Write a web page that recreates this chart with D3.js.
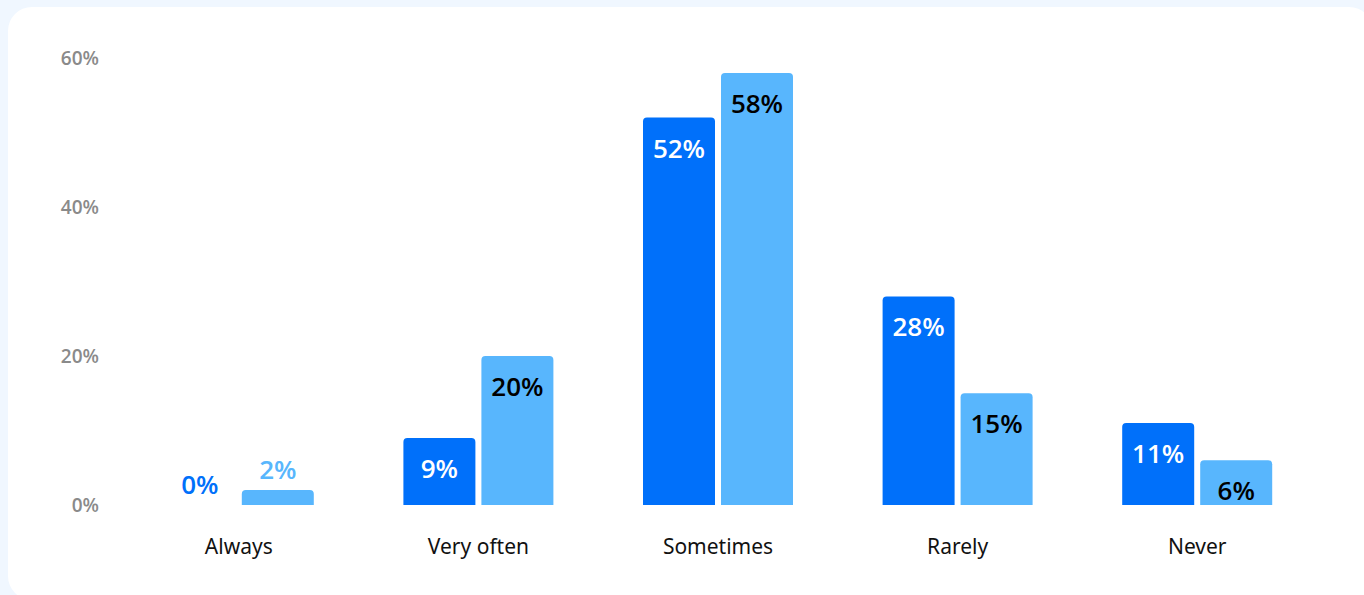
<!DOCTYPE html>
<html>
<head>
<meta charset="utf-8">
<script src="https://cdn.jsdelivr.net/npm/d3@7"></script>
<style>
  html, body { margin: 0; padding: 0; background: #f0f7ff; }
  svg { display: block; font-family: "Noto Sans", sans-serif; }
</style>
</head>
<body>
<svg id="chart" width="1364" height="595"></svg>
<script>
const categories = ["Always", "Very often", "Sometimes", "Rarely", "Never"];
const seriesA = [0, 9, 52, 28, 11];   // darker bars
const seriesB = [2, 20, 58, 15, 6];   // lighter bars
const tickValues = [0, 20, 40, 60];
const tickLabels = ["0%", "20%", "40%", "60%"];

const colorA = "#0070fa";
const colorB = "#58b6fd";
const labelFont = "'Open Sans', 'Noto Sans', sans-serif";

const svg = d3.select("#chart");

// card
svg.append("rect")
  .attr("x", 8).attr("y", 7)
  .attr("width", 1365).attr("height", 593)
  .attr("rx", 24).attr("ry", 24)
  .attr("fill", "#ffffff");

const baseY = 505, topY = 58;
const y = d3.scaleLinear().domain([0, 60]).range([baseY, topY]);
const x = d3.scaleBand().domain(categories).range([119, 1317]);
const barW = 72, gap = 6;
const pairW = barW * 2 + gap;

// y axis labels
const yAxis = d3.axisLeft(y).tickValues(tickValues)
  .tickFormat((d, i) => tickLabels[i]).tickSize(0).tickPadding(0);
const yg = svg.append("g").attr("transform", "translate(99,0)").call(yAxis);
yg.select(".domain").remove();
yg.selectAll("text")
  .attr("fill", "#8a8a8a")
  .attr("font-size", 19)
  .attr("font-weight", 600)
  .attr("font-family", labelFont)
  .attr("dy", "0.36em");

// x axis labels
const xAxis = d3.axisBottom(x).tickSize(0).tickPadding(0);
const xg = svg.append("g").attr("transform", "translate(0,534)").call(xAxis);
xg.select(".domain").remove();
xg.selectAll("text")
  .attr("fill", "#111")
  .attr("font-size", 21)
  .attr("font-family", "Noto Sans, sans-serif")
  .attr("dy", "0.95em");

function topRounded(x0, y0, w, h, r) {
  if (h <= 0) return "";
  const rr = Math.min(r, h, w / 2);
  return `M${x0},${y0 + h}V${y0 + rr}Q${x0},${y0} ${x0 + rr},${y0}H${x0 + w - rr}Q${x0 + w},${y0} ${x0 + w},${y0 + rr}V${y0 + h}Z`;
}

const rows = categories.map((c, i) => ({ c, a: seriesA[i], b: seriesB[i] }));

rows.forEach(row => {
  const cx = x(row.c) + x.bandwidth() / 2;
  const items = [
    { v: row.a, x0: cx - pairW / 2, fill: colorA, inText: "#ffffff" },
    { v: row.b, x0: cx - pairW / 2 + barW + gap, fill: colorB, inText: "#000000" }
  ];
  items.forEach(it => {
    const yt = y(it.v);
    const h = baseY - yt;
    svg.append("path")
      .attr("d", topRounded(it.x0, yt, barW, h, 4))
      .attr("fill", it.fill);
    const inside = h > 40;
    svg.append("text")
      .attr("x", it.x0 + barW / 2)
      .attr("y", inside ? yt + 40 : yt - 11)
      .attr("text-anchor", "middle")
      .attr("font-size", 26)
      .attr("font-weight", 600)
      .attr("font-family", labelFont)
      .attr("fill", inside ? it.inText : it.fill)
      .text(it.v + "%");
  });
});
</script>
</body>
</html>
